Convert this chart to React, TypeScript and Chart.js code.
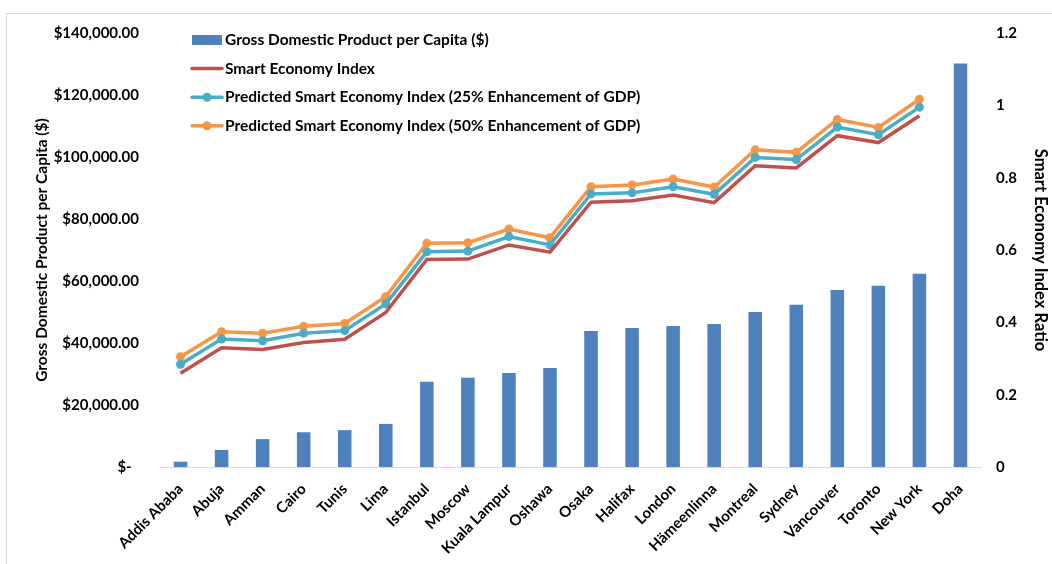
import React, { useEffect, useRef } from 'react';
import { Chart, registerables } from 'chart.js';

Chart.register(...registerables);

const categories = [
  'Addis Ababa', 'Abuja', 'Amman', 'Cairo', 'Tunis', 'Lima', 'Istanbul', 'Moscow',
  'Kuala Lampur', 'Oshawa', 'Osaka', 'Halifax', 'London', 'Hämeenlinna', 'Montreal',
  'Sydney', 'Vancouver', 'Toronto', 'New York', 'Doha',
];
const gdpPerCapita = [
  1700, 5500, 9000, 11200, 11900, 13900, 27500, 28800, 30300, 31900,
  43900, 44800, 45500, 46100, 50000, 52300, 57100, 58500, 62300, 130200,
];
const smartIndex = [
  0.259, 0.330, 0.325, 0.344, 0.353, 0.427, 0.574, 0.575, 0.614, 0.594,
  0.732, 0.736, 0.752, 0.731, 0.833, 0.827, 0.916, 0.897, 0.971, null,
];
const predicted25 = [
  0.284, 0.354, 0.349, 0.370, 0.377, 0.451, 0.595, 0.597, 0.637, 0.614,
  0.755, 0.758, 0.775, 0.754, 0.856, 0.850, 0.940, 0.919, 0.995, null,
];
const predicted50 = [
  0.305, 0.374, 0.370, 0.389, 0.397, 0.471, 0.619, 0.620, 0.658, 0.634,
  0.775, 0.780, 0.796, 0.774, 0.877, 0.870, 0.961, 0.939, 1.017, null,
];
const seriesLabels = [
  'Gross Domestic Product per Capita ($)',
  'Smart Economy Index',
  'Predicted Smart Economy Index (25% Enhancement of GDP)',
  'Predicted Smart Economy Index (50% Enhancement of GDP)',
];
const leftAxisTitle = 'Gross Domestic Product per Capita ($)';
const rightAxisTitle = 'Smart Economy Index Ratio';

const FONT = 'Lato';
const BLUE = '#4F81BD';
const RED = '#C0504D';
const TEAL = '#4BACC6';
const ORANGE = '#F79646';

const insideLegend = {
  id: 'insideLegend',
  afterDraw(chart: any) {
    const { ctx, chartArea } = chart;
    const x0 = chartArea.left + 32;
    const y0 = chartArea.top + 7;
    const step = 28.6;
    ctx.save();
    ctx.font = `bold 15.5px ${FONT}`;
    ctx.textBaseline = 'middle';
    ctx.textAlign = 'left';
    chart.data.datasets.forEach((ds: any, i: number) => {
      const y = y0 + i * step;
      if (ds.type === 'bar') {
        ctx.fillStyle = ds.backgroundColor;
        ctx.fillRect(x0, y - 5, 30, 10);
      } else {
        ctx.strokeStyle = ds.borderColor;
        ctx.lineWidth = 3.5;
        ctx.lineCap = 'round';
        ctx.beginPath();
        ctx.moveTo(x0, y);
        ctx.lineTo(x0 + 30, y);
        ctx.stroke();
        if (ds.pointRadius > 0) {
          ctx.fillStyle = ds.borderColor;
          ctx.beginPath();
          ctx.arc(x0 + 15, y, 4.5, 0, Math.PI * 2);
          ctx.fill();
        }
      }
      ctx.fillStyle = '#000';
      ctx.fillText(ds.label, x0 + 33, y);
    });
    ctx.restore();
  },
};

export default function App() {
  const ref = useRef<HTMLCanvasElement | null>(null);

  useEffect(() => {
    if (!ref.current) return;
    const chart = new Chart(ref.current, {
      type: 'bar',
      data: {
        labels: categories,
        datasets: [
          {
            type: 'bar',
            label: seriesLabels[0],
            data: gdpPerCapita,
            backgroundColor: BLUE,
            yAxisID: 'y',
            order: 1,
            barPercentage: 0.33,
            categoryPercentage: 1.0,
          },
          {
            type: 'line',
            label: seriesLabels[1],
            data: smartIndex,
            borderColor: RED,
            backgroundColor: RED,
            borderWidth: 3.5,
            pointRadius: 0,
            yAxisID: 'y1',
            order: 0,
          },
          {
            type: 'line',
            label: seriesLabels[2],
            data: predicted25,
            borderColor: TEAL,
            backgroundColor: TEAL,
            borderWidth: 3.5,
            pointRadius: 4.5,
            pointBorderWidth: 0,
            pointBackgroundColor: TEAL,
            yAxisID: 'y1',
            order: 0,
          },
          {
            type: 'line',
            label: seriesLabels[3],
            data: predicted50,
            borderColor: ORANGE,
            backgroundColor: ORANGE,
            borderWidth: 3.5,
            pointRadius: 4.5,
            pointBorderWidth: 0,
            pointBackgroundColor: ORANGE,
            yAxisID: 'y1',
            order: 0,
          },
        ] as any,
      },
      options: {
        animation: false,
        responsive: false,
        maintainAspectRatio: false,
        layout: { padding: { top: 19, left: 0, right: 0, bottom: 0 }, autoPadding: false },
        plugins: {
          legend: { display: false },
          tooltip: { enabled: false },
        },
        scales: {
          x: {
            grid: { display: false, drawTicks: false },
            border: { display: true, color: '#d9d9d9', width: 1 },
            ticks: {
              autoSkip: false,
              minRotation: 45,
              maxRotation: 45,
              padding: 13,
              color: '#000',
              font: { family: FONT, size: 15, weight: 'bold' },
            },
            afterFit: (s: any) => { s.height = 97; },
          },
          y: {
            position: 'left',
            min: 0,
            max: 140000,
            grid: { display: false, drawTicks: false },
            border: { display: false },
            ticks: {
              stepSize: 20000,
              padding: 21,
              color: '#000',
              font: { family: FONT, size: 15, weight: 'bold' },
              callback: (v: any) =>
                Number(v) === 0
                  ? '$-  '
                  : '$' + Number(v).toLocaleString('en-US', { minimumFractionDigits: 2, maximumFractionDigits: 2 }),
            },
            title: {
              display: true,
              text: leftAxisTitle,
              color: '#000',
              font: { family: FONT, size: 15.5, weight: 'bold' },
              padding: { top: 25.7, bottom: 0 },
            },
            afterFit: (s: any) => { s.width = 153; s.paddingTop = 0; s.paddingBottom = 0; },
          },
          y1: {
            position: 'right',
            min: 0,
            max: 1.2,
            grid: { display: false, drawTicks: false },
            border: { display: false },
            ticks: {
              stepSize: 0.2,
              padding: 15,
              color: '#000',
              font: { family: FONT, size: 15, weight: 'bold' },
              callback: (v: any) => String(Math.round(Number(v) * 10) / 10),
            },
            title: {
              display: true,
              text: rightAxisTitle,
              color: '#000',
              font: { family: FONT, size: 16.5, weight: 'bold' },
              padding: { top: 2.1, bottom: 0 },
            },
            afterFit: (s: any) => { s.width = 71; s.paddingTop = 0; s.paddingBottom = 0; },
          },
        },
      } as any,
      plugins: [insideLegend],
    });
    return () => chart.destroy();
  }, []);

  return (
    <div
      style={{
        position: 'fixed',
        left: 6,
        top: 13,
        width: 1100,
        height: 600,
        border: '1px solid #d9d9d9',
        background: '#fff',
        boxSizing: 'content-box',
      }}
    >
      <canvas ref={ref} width={1045} height={550} style={{ display: 'block', width: 1045, height: 550 }} />
    </div>
  );
}
